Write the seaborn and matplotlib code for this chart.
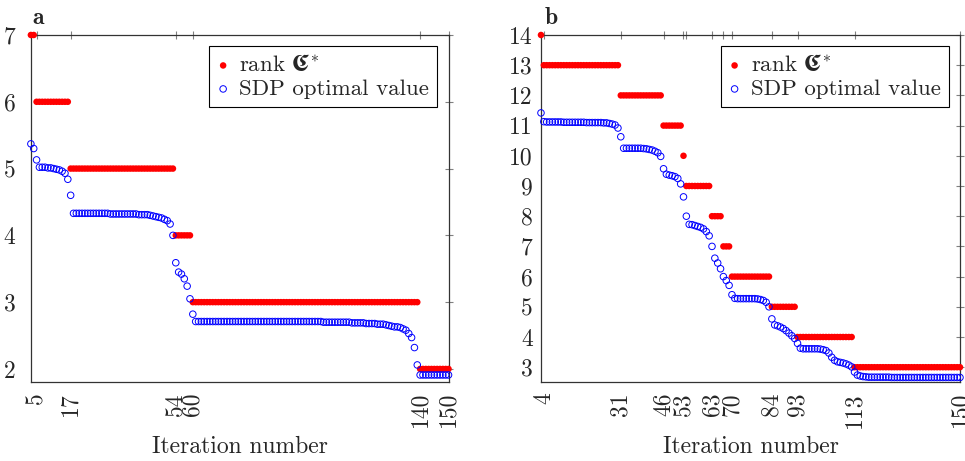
import numpy as np
import pandas as pd
import matplotlib
matplotlib.use('Agg')
import matplotlib.pyplot as plt
import seaborn as sns

# Iterations shown in both panels
iters = list(range(3, 151))

# Panel a: rank of C* (level and first iteration where it holds)
a_rank_levels = [7, 6, 5, 4, 3, 2]
a_rank_starts = [3, 5, 17, 54, 60, 140]

# Panel a: SDP optimal value, one per iteration 3..150
a_sdp = [
    5.37, 5.30, 5.13, 5.02, 5.02, 5.02, 5.01, 5.01, 5.00, 4.99,
    4.98, 4.96, 4.93, 4.84, 4.60, 4.33, 4.33, 4.33, 4.33, 4.33,
    4.33, 4.33, 4.33, 4.33, 4.33, 4.33, 4.33, 4.33, 4.32, 4.32,
    4.32, 4.32, 4.32, 4.32, 4.32, 4.32, 4.32, 4.32, 4.31, 4.31,
    4.31, 4.31, 4.30, 4.29, 4.28, 4.27, 4.26, 4.24, 4.22, 4.17,
    4.00, 3.59, 3.45, 3.42, 3.35, 3.24, 3.05, 2.82, 2.71, 2.71,
    2.71, 2.71, 2.71, 2.71, 2.71, 2.71, 2.71, 2.71, 2.71, 2.71,
    2.71, 2.71, 2.71, 2.71, 2.71, 2.71, 2.71, 2.71, 2.71, 2.71,
    2.71, 2.71, 2.71, 2.71, 2.71, 2.71, 2.71, 2.71, 2.71, 2.71,
    2.71, 2.71, 2.71, 2.71, 2.71, 2.71, 2.71, 2.71, 2.71, 2.71,
    2.71, 2.71, 2.71, 2.70, 2.70, 2.70, 2.70, 2.70, 2.70, 2.70,
    2.70, 2.70, 2.70, 2.69, 2.69, 2.69, 2.69, 2.69, 2.68, 2.68,
    2.68, 2.68, 2.67, 2.67, 2.67, 2.66, 2.65, 2.64, 2.63, 2.63,
    2.62, 2.60, 2.58, 2.53, 2.47, 2.32, 2.06, 1.91, 1.91, 1.91,
    1.91, 1.91, 1.91, 1.91, 1.91, 1.91, 1.91, 1.91,
]

# Panel b: rank of C*
b_rank_levels = [14, 13, 12, 11, 10, 9, 8, 7, 6, 5, 4, 3]
b_rank_starts = [3, 4, 31, 46, 53, 54, 63, 67, 70, 84, 93, 113]

# Panel b: SDP optimal value, one per iteration 3..150
b_sdp = [
    11.42, 11.13, 11.12, 11.12, 11.12, 11.12, 11.12, 11.12, 11.11, 11.11,
    11.11, 11.11, 11.11, 11.11, 11.11, 11.11, 11.10, 11.10, 11.10, 11.10,
    11.10, 11.10, 11.09, 11.09, 11.07, 11.05, 11.02, 10.92, 10.63, 10.25,
    10.25, 10.25, 10.25, 10.25, 10.25, 10.25, 10.24, 10.23, 10.21, 10.19,
    10.15, 10.10, 9.98, 9.57, 9.39, 9.36, 9.34, 9.31, 9.25, 9.07,
    8.64, 8.00, 7.73, 7.72, 7.69, 7.66, 7.63, 7.58, 7.49, 7.35,
    7.00, 6.61, 6.45, 6.26, 6.00, 5.87, 5.71, 5.40, 5.28, 5.27,
    5.27, 5.27, 5.27, 5.27, 5.27, 5.27, 5.26, 5.24, 5.21, 5.15,
    5.00, 4.60, 4.40, 4.37, 4.33, 4.28, 4.21, 4.13, 4.04, 3.95,
    3.79, 3.63, 3.61, 3.61, 3.61, 3.61, 3.61, 3.61, 3.60, 3.58,
    3.55, 3.47, 3.33, 3.23, 3.18, 3.16, 3.14, 3.11, 3.07, 3.01,
    2.84, 2.74, 2.71, 2.69, 2.68, 2.67, 2.67, 2.67, 2.67, 2.67,
    2.67, 2.67, 2.67, 2.66, 2.66, 2.66, 2.66, 2.66, 2.66, 2.66,
    2.66, 2.66, 2.66, 2.66, 2.66, 2.66, 2.66, 2.66, 2.66, 2.66,
    2.66, 2.66, 2.66, 2.66, 2.66, 2.66, 2.66, 2.66,
]

# Tick positions / labels
a_xticks = [5, 17, 54, 60, 140, 150]
a_xticklabels = ['5', '17', '54', '60', '140', '150']
b_xticks = [4, 31, 46, 53, 54, 63, 67, 70, 84, 93, 113, 150]
b_xticklabels = ['4', '31', '46', '53', '', '63', '', '70', '84', '93', '113', '150']
a_yticks = [2, 3, 4, 5, 6, 7]
b_yticks = list(range(3, 15))


def expand_rank(levels, starts, last):
    counts = np.diff(starts + [last + 1])
    return np.repeat(levels, counts)


sns.set_style('white')
plt.rcParams['font.family'] = 'cmr10'
plt.rcParams['mathtext.fontset'] = 'cm'
plt.rcParams['axes.formatter.use_mathtext'] = True

fig = plt.figure(figsize=(9.65, 4.61), dpi=100)
ax_a = fig.add_axes([0.0320, 0.1707, 0.4328, 0.7534])
ax_b = fig.add_axes([0.5606, 0.1707, 0.4342, 0.7534])


def draw_panel(ax, rank, sdp, xticks, xticklabels, yticks, ylim, ypad):
    df = pd.DataFrame({'iter': iters, 'rank': rank, 'sdp': sdp})
    sns.scatterplot(data=df, x='iter', y='rank', ax=ax, color='red', s=22,
                    edgecolor='none', label='rank $\U0001D56E^{*}$',
                    clip_on=False, zorder=3)
    sns.scatterplot(data=df, x='iter', y='sdp', ax=ax, facecolor='none',
                    edgecolor='blue', linewidth=0.7, s=22,
                    label='SDP optimal value', clip_on=False, zorder=3)
    ax.set_xlim(3, 150)
    ax.set_ylim(*ylim)
    ax.set_xticks(xticks)
    ax.set_xticklabels(xticklabels, rotation=90)
    ax.set_yticks(yticks)
    ax.set_yticklabels([str(t) for t in yticks])
    ax.set_xlabel('Iteration number', fontsize=17, labelpad=6)
    ax.set_ylabel('')
    ax.tick_params(axis='both', direction='inout', length=6, width=0.8,
                   color='#808080', top=True, right=True, labelsize=17)
    ax.tick_params(axis='x', pad=4)
    ax.tick_params(axis='y', pad=ypad)
    for sp in ax.spines.values():
        sp.set_color('#333333')
        sp.set_linewidth(0.9)
    leg = ax.legend(loc='upper right', frameon=True, fancybox=False,
                    edgecolor='black', framealpha=1, scatterpoints=1,
                    handletextpad=0.45, borderpad=0.35, labelspacing=0.15,
                    borderaxespad=0.5, fontsize=16.5, handlelength=0.5)
    leg.get_frame().set_linewidth(0.8)


draw_panel(ax_a, expand_rank(a_rank_levels, a_rank_starts, 150), a_sdp,
           a_xticks, a_xticklabels, a_yticks, (1.8, 7), 8)
draw_panel(ax_b, expand_rank(b_rank_levels, b_rank_starts, 150), b_sdp,
           b_xticks, b_xticklabels, b_yticks, (2.5, 14), 3)

fig.text(32 / 965, 1 - 7 / 461, 'a', fontfamily='cmb10', fontsize=17,
         va='top', ha='left')
fig.text(545 / 965, 1 - 7 / 461, 'b', fontfamily='cmb10', fontsize=17,
         va='top', ha='left')

fig.savefig('out.png', dpi=100)
